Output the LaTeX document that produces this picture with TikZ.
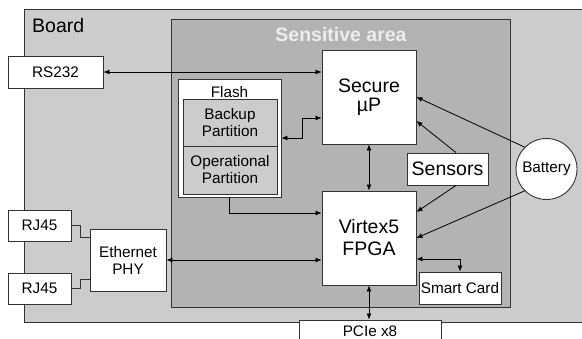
\documentclass[tikz,border=0pt]{standalone}
\usepackage{fontspec}
\setmainfont{Liberation Sans}
\usetikzlibrary{arrows.meta,calc}
\definecolor{boardgray}{HTML}{CCCCCC}
\definecolor{sensgray}{HTML}{B3B3B3}
\definecolor{edgegray}{HTML}{333333}
\tikzset{
  small/.style={font=\fontsize{15.3}{17}\selectfont},
  large/.style={font=\fontsize{19.5}{20}\selectfont},
  wbox/.style={draw=edgegray, line width=0.9pt, fill=white, align=center, inner sep=0pt},
  gbox/.style={draw=edgegray, line width=0.9pt, fill=boardgray, align=center, inner sep=0pt},
  conn/.style={line width=0.8pt, draw=black},
  tip/.style={{Latex[length=6pt,width=5pt]}-{Latex[length=6pt,width=5pt]}},
  rtip/.style={-{Latex[length=6pt,width=5pt]}}
}
\begin{document}
\begin{tikzpicture}[x=1pt,y=-1pt]
\useasboundingbox (0,0) rectangle (582,338);
\clip (0,0) rectangle (582,338);
\fill[white] (0,0) rectangle (582,338);
% board
\draw[draw=edgegray, line width=0.9pt, fill=boardgray] (24,9) rectangle (595,322);
\node[large, anchor=base west, inner sep=0pt] (boardlbl) at (32,32) {Board};
% sensitive area
\draw[draw=edgegray, line width=0.9pt, fill=sensgray] (171,19) rectangle (510,307);
\node[large, font=\fontsize{19.5}{20}\selectfont\bfseries, text=white!93!black, anchor=base, inner sep=0pt] (senslbl) at (341,41) {Sensitive area};
% boxes
\node[wbox, small, minimum width=95pt, minimum height=32pt] (rs232) at (55.5,72) {RS232};
\node[wbox, minimum width=103pt, minimum height=118pt] (flash) at (229.5,138) {};
\node[small, anchor=base, inner sep=0pt] (flashlbl) at (229.5,97) {Flash};
\node[gbox, small, minimum width=94pt, minimum height=47pt] (backup) at (230,122.5) {Backup\\Partition};
\node[gbox, small, minimum width=94pt, minimum height=48pt] (oper) at (230,170) {Operational\\Partition};
\node[wbox, large, minimum width=94pt, minimum height=94pt, font=\fontsize{19.5}{19}\selectfont] (secure) at (369,97) {Secure\\µP};
\node[wbox, large, minimum width=94pt, minimum height=94pt, font=\fontsize{19.5}{22}\selectfont] (fpga) at (369,238) {Virtex5\\FPGA};
\node[wbox, large, minimum width=81pt, minimum height=32pt] (sensors) at (447.5,169) {Sensors};
\node[draw=edgegray, line width=0.9pt, fill=white, circle, minimum size=61pt, inner sep=0pt, small] (battery) at (546.5,169) {Battery};
\node[wbox, small, minimum width=82pt, minimum height=32pt] (smart) at (460,288) {Smart Card};
\node[wbox, small, minimum width=142pt, minimum height=22pt] (pcie) at (370,331) {PCIe x8};
\node[wbox, small, minimum width=63pt, minimum height=31pt] (rj1) at (39.5,225.5) {RJ45};
\node[wbox, small, minimum width=63pt, minimum height=31pt] (rj2) at (39.5,288.5) {RJ45};
\node[wbox, small, minimum width=76pt, minimum height=62pt] (phy) at (128,260) {Ethernet\\PHY};
% connectors
\draw[conn, tip] (rs232.east) -- (rs232.east -| secure.west);
\draw[conn, tip] (flash.east) -- ++(21,0) |- ($(secure.west)+(0,21)$);
\draw[conn, rtip] (flash.south) |- ($(fpga.west)+(0,-25)$);
\draw[conn, tip] (phy.east) -- (phy.east -| fpga.west);
\draw[conn, tip] (secure.south) -- (fpga.north);
\draw[conn, rtip] ($(sensors.north)+(8.5,0)$) -- ($(secure.east)+(0,24)$);
\draw[conn, rtip] (battery.135) -- (secure.east);
\draw[conn, rtip] ($(sensors.south)+(8.5,0)$) -- ($(fpga.east)+(0,-26)$);
\draw[conn, rtip] (battery.225) -- (fpga.east);
\draw[conn, tip] ($(fpga.east)+(0,21)$) -| (smart.north);
\draw[conn, tip] (fpga.south) -- (fpga.south |- pcie.north);
\draw[conn, draw=edgegray] (rj1.east) -- ++(9,0) |- ($(phy.west)+(0,-23)$);
\draw[conn, draw=edgegray] (rj2.east) -- ++(9,0) |- ($(phy.west)+(0,19)$);
\end{tikzpicture}
\end{document}
